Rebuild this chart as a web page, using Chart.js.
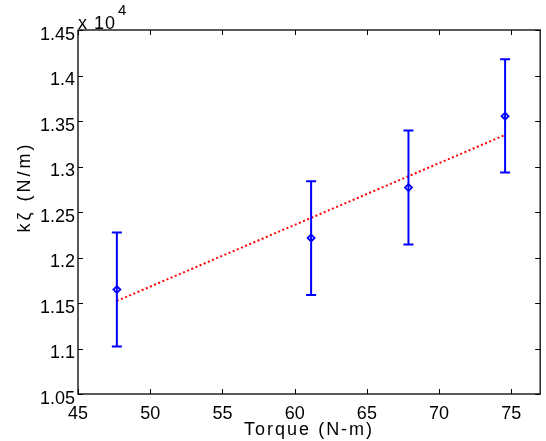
<!DOCTYPE html>
<html>
<head>
<meta charset="utf-8">
<script src="https://cdn.jsdelivr.net/npm/chart.js@4.4.1/dist/chart.umd.min.js"></script>
<style>
html,body{margin:0;padding:0;background:#fff;}
#wrap{width:546px;height:441px;position:relative;}
</style>
</head>
<body>
<div id="wrap"><canvas id="c" width="546" height="441"></canvas></div>
<script>
// Data (k-zeta in N/m, plotted as value / 1e4)
const torque = [47.69, 61.14, 67.88, 74.57];
const kzeta = [11648, 12215, 12769, 13553];
const errLow = [11022, 11589, 12143, 12935];
const errHigh = [12275, 12838, 13396, 14179];
const fitX = [47.69, 74.57];
const fitY = [11523, 13347];
const xTicks = [45, 50, 55, 60, 65, 70, 75];
const yTicks = [10500, 11000, 11500, 12000, 12500, 13000, 13500, 14000, 14500];
const xLabel = 'Torque (N-m)';
const yLabel = 'kζ (N/m)';

const FONT = '"Liberation Sans", Arial, sans-serif';

const boxPlugin = {
  id: 'box',
  beforeInit(chart) {
    chart.ctx.letterSpacing = '1px';
  },
  afterDatasetsDraw(chart) {
    const {ctx, chartArea: a, scales} = chart;
    const xs = scales.x, ys = scales.y;
    ctx.save();
    // error bars
    ctx.strokeStyle = '#0000ff';
    ctx.lineWidth = 2;
    torque.forEach((t, i) => {
      const px = xs.getPixelForValue(t);
      const pl = ys.getPixelForValue(errLow[i]);
      const ph = ys.getPixelForValue(errHigh[i]);
      ctx.beginPath();
      ctx.moveTo(px, pl); ctx.lineTo(px, ph);
      ctx.moveTo(px - 5, pl); ctx.lineTo(px + 5, pl);
      ctx.moveTo(px - 5, ph); ctx.lineTo(px + 5, ph);
      ctx.stroke();
    });
    // box
    ctx.strokeStyle = '#000';
    ctx.lineWidth = 1.3;
    ctx.strokeRect(a.left, a.top, a.right - a.left, a.bottom - a.top);
    // inward ticks
    ctx.lineWidth = 1;
    ctx.beginPath();
    xTicks.forEach(v => {
      const p = Math.round(xs.getPixelForValue(v)) + 0.5;
      ctx.moveTo(p, a.bottom); ctx.lineTo(p, a.bottom - 5);
      ctx.moveTo(p, a.top); ctx.lineTo(p, a.top + 5);
    });
    yTicks.forEach(v => {
      const p = Math.round(ys.getPixelForValue(v)) + 0.5;
      ctx.moveTo(a.left, p); ctx.lineTo(a.left + 5, p);
      ctx.moveTo(a.right, p); ctx.lineTo(a.right - 5, p);
    });
    ctx.stroke();
    // labels
    ctx.fillStyle = '#000';
    ctx.font = '18px ' + FONT;
    ctx.letterSpacing = '2px';
    ctx.textAlign = 'center';
    ctx.textBaseline = 'middle';
    ctx.fillText(xLabel, (a.left + a.right) / 2, 430);
    ctx.save();
    ctx.letterSpacing = '3px';
    ctx.translate(25, 187);
    ctx.rotate(-Math.PI / 2);
    ctx.fillText(yLabel, 0, 0);
    ctx.restore();
    // exponent
    ctx.letterSpacing = '1px';
    ctx.textAlign = 'left';
    ctx.textBaseline = 'alphabetic';
    ctx.fillText('x 10', 78, 29);
    ctx.font = '15px ' + FONT;
    ctx.fillText('4', 118, 15);
    ctx.restore();
  }
};

new Chart(document.getElementById('c'), {
  type: 'scatter',
  data: {
    datasets: [
      {
        label: 'fit',
        data: fitX.map((x, i) => ({x: x, y: fitY[i]})),
        showLine: true,
        borderColor: '#ff0000',
        borderWidth: 2,
        borderDash: [2, 2.5],
        pointRadius: 0,
        fill: false
      },
      {
        label: 'data',
        data: torque.map((x, i) => ({x: x, y: kzeta[i]})),
        pointStyle: 'rectRot',
        pointRadius: 3.5,
        pointBorderWidth: 1.8,
        borderColor: '#0000ff',
        backgroundColor: 'rgba(0,0,0,0)',
        showLine: false
      }
    ]
  },
  options: {
    responsive: false,
    animation: false,
    layout: {padding: {top: 30, right: 3, left: 0, bottom: 0}},
    plugins: {legend: {display: false}, tooltip: {enabled: false}},
    scales: {
      x: {
        type: 'linear',
        min: 45, max: 77,
        afterBuildTicks: s => { s.ticks = xTicks.map(v => ({value: v})); },
        afterFit: s => { s.height = 47; },
        grid: {display: false, drawTicks: false},
        border: {display: false},
        ticks: {color: '#000', font: {size: 18, family: FONT}, padding: 9, maxRotation: 0, autoSkip: false}
      },
      y: {
        type: 'linear',
        min: 10500, max: 14500,
        afterBuildTicks: s => { s.ticks = yTicks.map(v => ({value: v})); },
        afterFit: s => { s.width = 78; },
        grid: {display: false, drawTicks: false},
        border: {display: false},
        ticks: {color: '#000', font: {size: 18, family: FONT}, padding: 3, labelOffset: 5, autoSkip: false,
          callback: v => String(parseFloat((v / 1e4).toFixed(2)))}
      }
    }
  },
  plugins: [boxPlugin]
});
</script>
</body>
</html>
